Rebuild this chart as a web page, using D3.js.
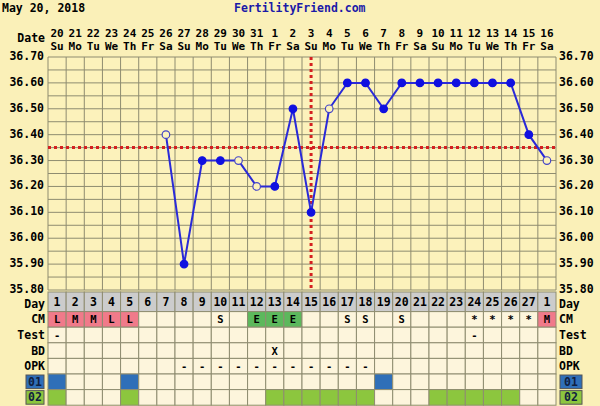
<!DOCTYPE html>
<html><head><meta charset="utf-8">
<script src="https://cdn.jsdelivr.net/npm/d3@7"></script>
<style>body{margin:0;background:#faf0b8;} text{font-family:"DejaVu Sans Mono",monospace;font-weight:bold;}</style>
</head><body><svg id="c" width="600" height="406"></svg>
<script>
const dates = ['20','21','22','23','24','25','26','27','28','29','30','31','1','2','3','4','5','6','7','8','9','10','11','12','13','14','15','16'];
const weekdays = ['Su','Mo','Tu','We','Th','Fr','Sa','Su','Mo','Tu','We','Th','Fr','Sa','Su','Mo','Tu','We','Th','Fr','Sa','Su','Mo','Tu','We','Th','Fr','Sa'];
const cycleDays = ['1','2','3','4','5','6','7','8','9','10','11','12','13','14','15','16','17','18','19','20','21','22','23','24','25','26','27','1'];
const temps = [null,null,null,null,null,null,36.40,35.90,36.30,36.30,36.30,36.20,36.20,36.50,36.10,36.50,36.60,36.60,36.50,36.60,36.60,36.60,36.60,36.60,36.60,36.60,36.40,36.30];
const openPoint = [0,0,0,0,0,0,1,0,0,0,1,1,0,0,0,1,0,0,0,0,0,0,0,0,0,0,0,1];
const cm = ['L','M','M','L','L','','','','','S','','E','E','E','','','S','S','','S','','','','*','*','*','*','M'];
const test = ['-','','','','','','','','','','','','','','','','','','','','','','','-','','','',''];
const bd = ['','','','','','','','','','','','','X','','','','','','','','','','','','','','',''];
const opk = ['','','','','','','','-','-','-','-','-','-','-','-','-','-','-','','','','','','','','','',''];
const row01 = [1,0,0,0,1,0,0,0,0,0,0,0,0,0,0,0,0,0,1,0,0,0,0,0,0,0,0,0];
const row02 = [1,0,0,0,1,0,0,0,0,0,0,0,1,1,1,1,1,1,0,0,0,1,1,1,1,1,0,0];
const yTicks = [36.70,36.60,36.50,36.40,36.30,36.20,36.10,36.00,35.90,35.80];
const coverline = 36.35, ovDay = 14;

const svg = d3.select('#c');
const x0 = 48, x1 = 556, yTop = 57, yBot = 290;
const x = d3.scaleBand().domain(d3.range(28)).range([x0, x1]);
const y = d3.scaleLinear().domain([35.8, 36.7]).range([yBot, yTop]);
const cx = i => x(i) + x.bandwidth()/2;

svg.append('text').attr('x',2).attr('y',12).attr('font-size',11.5).text('May 20, 2018');
svg.append('text').attr('x',234).attr('y',12).attr('font-size',11.5).attr('fill','#1a1aa8').text('FertilityFriend.com');

svg.append('rect').attr('x',x0).attr('y',yTop).attr('width',x1-x0).attr('height',yBot-yTop).attr('fill','#fcf2bb');
// grid
d3.range(35.8, 36.7001, 0.05).forEach(v => svg.append('line').attr('x1',x0).attr('x2',x1).attr('y1',y(v)).attr('y2',y(v)).attr('stroke','#8e8c70').attr('stroke-width',1));
d3.range(29).forEach(i => { const xx = x0 + i*x.bandwidth();
  svg.append('line').attr('x1',xx).attr('x2',xx).attr('y1',yTop).attr('y2',yBot).attr('stroke','#8e8c70'); });

// header
svg.selectAll('.d').data(dates).enter().append('text').attr('x',(d,i)=>cx(i)).attr('y',37).attr('text-anchor','middle').attr('font-size',11).text(d=>d);
svg.selectAll('.w').data(weekdays).enter().append('text').attr('x',(d,i)=>cx(i)).attr('y',50).attr('text-anchor','middle').attr('font-size',11).text(d=>d);
svg.append('text').attr('x',45).attr('y',42).attr('text-anchor','end').attr('font-size',11.5).text('Date');

// y labels
yTicks.forEach(v => {
  svg.append('text').attr('x',44).attr('y',y(v)+3).attr('text-anchor','end').attr('font-size',11.5).text(v.toFixed(2));
  svg.append('text').attr('x',559).attr('y',y(v)+3).attr('font-size',11.5).text(v.toFixed(2));
});

// coverline & ovulation
svg.append('line').attr('x1',x0).attr('x2',x1).attr('y1',y(coverline)).attr('y2',y(coverline)).attr('stroke','#d42020').attr('stroke-width',3).attr('stroke-dasharray','3,3');
svg.append('line').attr('x1',cx(ovDay)).attr('x2',cx(ovDay)).attr('y1',yTop).attr('y2',yBot).attr('stroke','#d42020').attr('stroke-width',3).attr('stroke-dasharray','3,3');

// temps
const pts = temps.map((t,i)=>({t,i,o:openPoint[i]})).filter(d=>d.t!==null);
svg.append('path').datum(pts).attr('fill','none').attr('stroke','#2a2ad8').attr('stroke-width',2)
  .attr('d', d3.line().x(d=>cx(d.i)).y(d=>y(d.t)));
svg.selectAll('.p').data(pts).enter().append('circle').attr('cx',d=>cx(d.i)).attr('cy',d=>y(d.t)).attr('r',3.8)
  .attr('fill',d=>d.o?'#fcf2bb':'#1010e0').attr('stroke',d=>d.o?'#4444c8':'#1010e0').attr('stroke-width',1.2);

// table
const rowH = 15.6, t0 = 292;
const rows = [
  {label:'Day', vals:cycleDays},
  {label:'CM', vals:cm},
  {label:'Test', vals:test},
  {label:'BD', vals:bd},
  {label:'OPK', vals:opk},
  {label:'01', vals:row01, color:'#2f6fb8'},
  {label:'02', vals:row02, color:'#8cc63e'}
];
rows.forEach((r,ri) => {
  const yy = t0 + ri*rowH + (ri>0?4:0), h = ri==0?rowH+4:rowH;
  const ly = yy + h/2 + (ri==0?6:4);
  r.vals.forEach((v,i) => {
    let fill = '#fdf5dc';
    if (ri==0) fill = '#cccccc';
    if (ri==1 && (v=='L'||v=='M')) fill = '#f07a8a';
    if (ri==1 && v=='E') fill = '#5cb85c';
    if (r.color && v) fill = r.color;
    svg.append('rect').attr('x',x(i)).attr('y',yy).attr('width',x.bandwidth()).attr('height',h).attr('fill',fill).attr('stroke','#8e8c70');
    if (!r.color && v) svg.append('text').attr('x',cx(i)).attr('y',yy+h/2+4).attr('text-anchor','middle').attr('font-size',ri==0?11.5:10.5).text(v);
  });
  if (r.color) {
    [[26,44],[560,582]].forEach(([a,b]) => {
      svg.append('rect').attr('x',a).attr('y',yy+1).attr('width',b-a).attr('height',h-2).attr('fill',r.color).attr('stroke','#555');
      svg.append('text').attr('x',(a+b)/2).attr('y',yy+h/2+4).attr('text-anchor','middle').attr('font-size',11.5).attr('fill','#102040').text(r.label);
    });
  } else {
    svg.append('text').attr('x',45).attr('y',ly).attr('text-anchor','end').attr('font-size',11.5).text(r.label);
    svg.append('text').attr('x',559).attr('y',ly).attr('font-size',11.5).text(r.label);
  }
});
</script></body></html>
